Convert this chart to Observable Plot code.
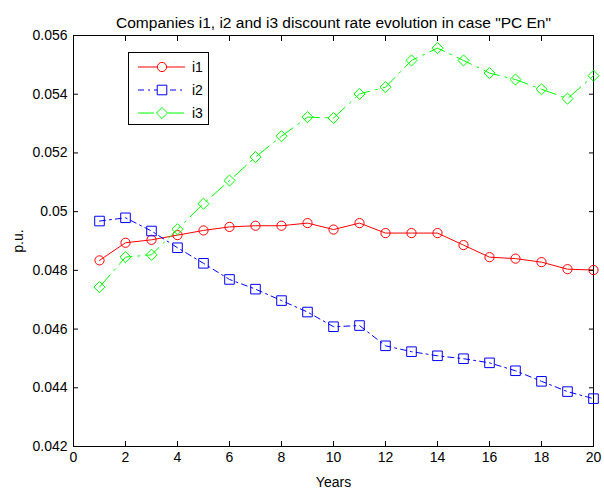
<!DOCTYPE html>
<html>
<head>
<meta charset="utf-8">
<script src="https://cdn.jsdelivr.net/npm/d3@7"></script>
<script src="https://cdn.jsdelivr.net/npm/@observablehq/plot@0.6"></script>
<style>
  html, body { margin: 0; padding: 0; background: #fff; }
  #wrap { position: relative; width: 604px; height: 489px; font-family: "Liberation Sans", Arial, sans-serif; }
  #legend { position: absolute; left: 128px; top: 52px; width: 81px; height: 73px; border: 1px solid #000; background: #fff; box-sizing: border-box; }
  .row { position: absolute; left: 0; height: 20px; }
  .row svg { position: absolute; left: 9px; top: 0; }
  .row span { position: absolute; left: 63px; top: 1px; font-size: 14px; line-height: 18px; }
</style>
</head>
<body>
<div id="wrap"></div>
<script>
const years = [1,2,3,4,5,6,7,8,9,10,11,12,13,14,15,16,17,18,19,20];
const i1 = [0.04834,0.04894,0.04904,0.04920,0.04936,0.04948,0.04952,0.04952,0.04961,0.04939,0.04961,0.04927,0.04927,0.04927,0.04886,0.04845,0.04840,0.04828,0.04804,0.04801];
const i2 = [0.04968,0.04979,0.04934,0.04877,0.04824,0.04769,0.04736,0.04697,0.04658,0.04608,0.04612,0.04543,0.04523,0.04509,0.04499,0.04485,0.04458,0.04422,0.04387,0.04363];
const i3 = [0.04743,0.04845,0.04853,0.04940,0.05027,0.05106,0.05186,0.05257,0.05322,0.05319,0.05401,0.05424,0.05515,0.05557,0.05515,0.05472,0.05450,0.05417,0.05385,0.05463];
const seriesNames = ["i1","i2","i3"];
const seriesColors = ["#ff0000","#0000ff","#00ff00"];
const seriesSymbols = ["circle","square","diamond2"];
const seriesRadius = [4.6,5.4,5];
const seriesDash = [null,"6,4,2,4","16,6,2,6"];
const xTicks = [0,2,4,6,8,10,12,14,16,18,20];
const yTicks = [0.042,0.044,0.046,0.048,0.05,0.052,0.054,0.056];
const titleText = 'Companies i1, i2 and i3 discount rate evolution in case "PC En"';

const allValues = [i1,i2,i3];
const rows = [];
seriesNames.forEach((s, k) => years.forEach((yr, j) => rows.push({series: s, year: yr, value: allValues[k][j]})));

const fmtY = d => String(+d.toFixed(3));
const marks = [Plot.frame({stroke: "#000", strokeWidth: 1})];
seriesNames.forEach((s, k) => {
  const d = rows.filter(r => r.series === s);
  marks.push(Plot.line(d, {x: "year", y: "value", stroke: seriesColors[k], strokeWidth: 1, strokeDasharray: seriesDash[k]}));
  marks.push(Plot.dot(d, {x: "year", y: "value", stroke: seriesColors[k], fill: "none", symbol: seriesSymbols[k], r: seriesRadius[k], strokeWidth: 1}));
});
marks.push(
  Plot.axisX({anchor: "bottom", ticks: xTicks, tickSize: -5, tickPadding: 11, fontSize: 14, tickFormat: d => String(d),
    label: "Years", labelAnchor: "center", labelArrow: "none", labelOffset: 40}),
  Plot.axisX({anchor: "top", ticks: xTicks, tickSize: -5, tickFormat: () => "", label: null}),
  Plot.axisY({anchor: "left", ticks: yTicks, tickSize: -5, tickPadding: 11, fontSize: 14, tickFormat: fmtY,
    label: "p.u.", labelAnchor: "center", labelArrow: "none", labelOffset: 60}),
  Plot.axisY({anchor: "right", ticks: yTicks, tickSize: -5, tickFormat: () => "", label: null}),
  Plot.text([titleText], {frameAnchor: "top", dy: -19, fontSize: 15.5, fill: "#000"})
);

const chart = Plot.plot({
  width: 604, height: 489,
  marginLeft: 73, marginRight: 11, marginTop: 35, marginBottom: 43,
  style: {fontFamily: '"Liberation Sans", Arial, sans-serif', fontSize: "14px", color: "#000", background: "#fff"},
  x: {domain: [0, 20]},
  y: {domain: [0.042, 0.056]},
  marks
});
const wrap = document.getElementById("wrap");
wrap.appendChild(chart);

// legend
const leg = document.createElement("div");
leg.id = "legend";
seriesNames.forEach((s, k) => {
  const row = document.createElement("div");
  row.className = "row";
  row.style.top = (4 + k * 23) + "px";
  const svg = d3.create("svg").attr("width", 50).attr("height", 20);
  const ln = svg.append("line").attr("x1", 0).attr("x2", 47).attr("y1", 10).attr("y2", 10)
    .attr("stroke", seriesColors[k]).attr("stroke-width", 1);
  if (seriesDash[k]) ln.attr("stroke-dasharray", seriesDash[k]);
  const sym = {circle: d3.symbolCircle, square: d3.symbolSquare, diamond2: d3.symbolDiamond2}[seriesSymbols[k]];
  svg.append("path").attr("transform", "translate(24,10)")
    .attr("d", d3.symbol(sym, Math.PI * seriesRadius[k] ** 2)())
    .attr("fill", "#fff").attr("stroke", seriesColors[k]).attr("stroke-width", 1);
  row.appendChild(svg.node());
  const t = document.createElement("span");
  t.textContent = s;
  row.appendChild(t);
  leg.appendChild(row);
});
wrap.appendChild(leg);
</script>
</body>
</html>
